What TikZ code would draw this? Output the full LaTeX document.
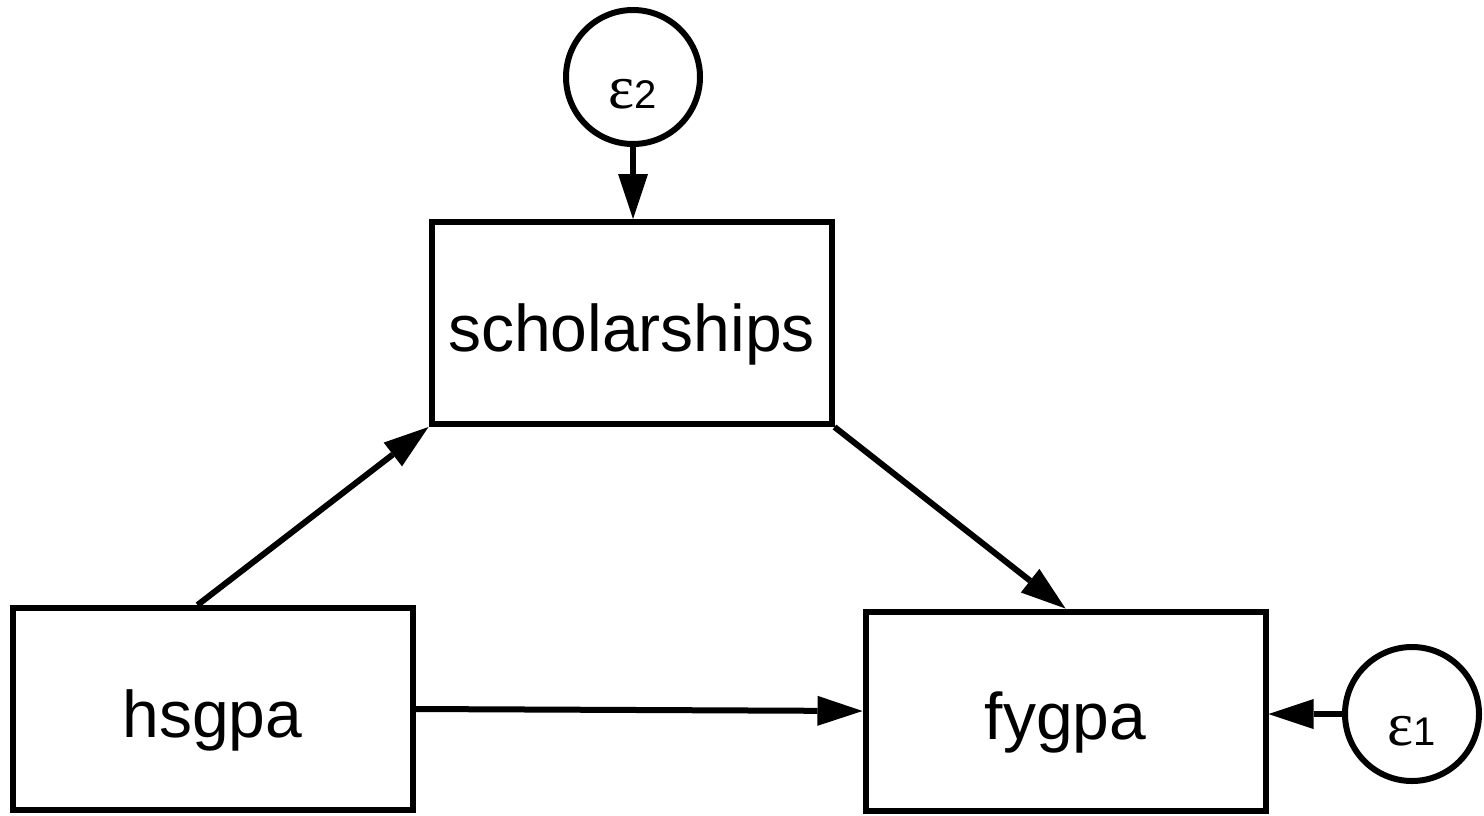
\documentclass[tikz,border=0pt]{standalone}
\usepackage{fontspec}
\setmainfont{Liberation Sans}
\newfontfamily\epsfont{Liberation Serif}
\usetikzlibrary{arrows.meta}
\begin{document}
\begin{tikzpicture}[x=1pt, y=-1pt, line width=6pt,
  var/.style={draw, rectangle, inner sep=0pt, minimum width=400pt,
    minimum height=202pt, font=\fontsize{66}{66}\selectfont,
    text height=56pt, text depth=0pt},
  err/.style={draw, circle, inner sep=0pt, minimum size=134pt,
    text height=62pt, text depth=0pt},
  link/.style={-{Triangle[length=45pt, width=30pt, line width=0pt]}}]
  \useasboundingbox (0,0) rectangle (1484,815);

  % observed variables
  \node[var] (sch) at (631.5,323) {scholarships};
  \node[var] (hs)  at (212.5,709) {hsgpa};
  \node[var, minimum height=199pt] (fy) at (1065.5,711) {fygpa};

  % error terms
  \node[err] (e2) at (633,77)
    {{\epsfont\fontsize{62}{62}\selectfont ε}{\fontsize{40}{40}\selectfont 2}};
  \node[err] (e1) at (1412,714)
    {{\epsfont\fontsize{62}{62}\selectfont ε}{\fontsize{40}{40}\selectfont 1}};

  % paths
  \draw[link] (e2.south) -- (e2.south |- sch.north);
  \draw[link] ([xshift=-15pt]hs.north) -- (sch.south west);
  \draw[link] (sch.south east) -- (fy.north);
  \draw[link] (hs.east) -- (fy.west);
  \draw[link] (e1.west) -- (e1.west -| fy.east);
\end{tikzpicture}
\end{document}
